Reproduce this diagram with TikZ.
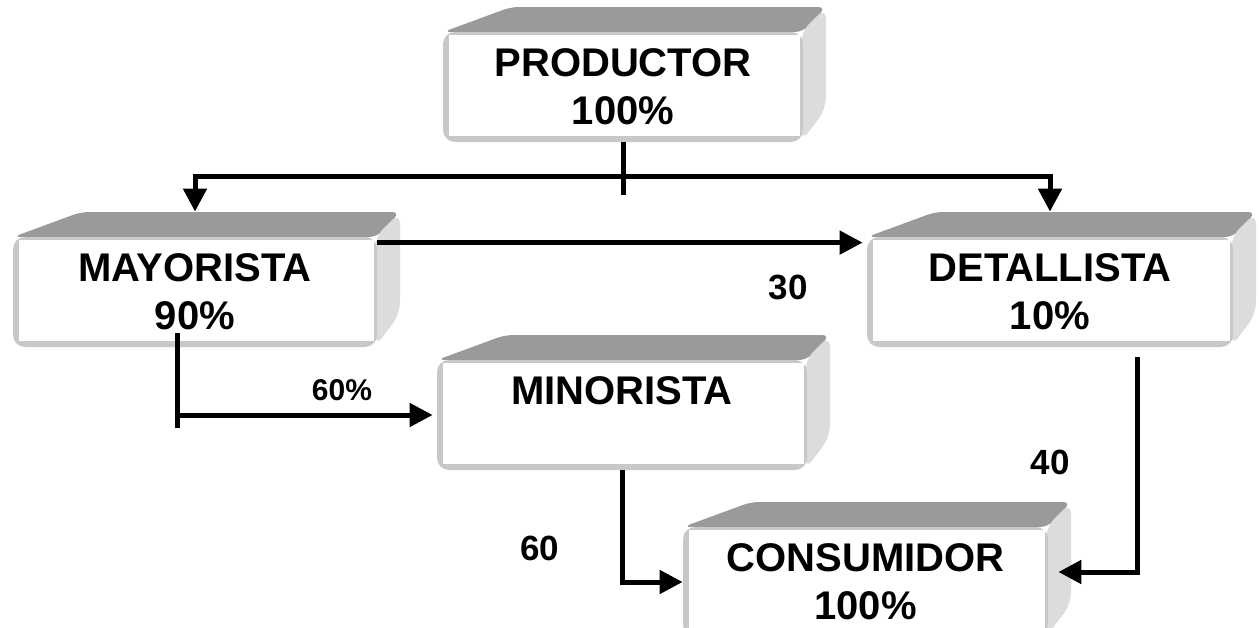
\documentclass[tikz,border=0pt]{standalone}
\usepackage{fontspec}
\setmainfont{Liberation Sans}
\usetikzlibrary{arrows.meta}

\definecolor{caratop}{HTML}{9A9A9A}
\definecolor{caralado}{HTML}{DCDCDC}
\definecolor{borde}{HTML}{C8C8C8}

\tikzset{
  linea/.style={line width=2.5pt},
  flecha/.style={line width=2.5pt, -{Triangle[length=11.5pt,width=11.5pt]}},
  etiqueta/.style={font=\fontsize{17.5}{20}\selectfont\bfseries},
}

% caja en relieve: nombre, izquierda, arriba, derecha, abajo, texto
\newcommand{\caja}[6]{%
  \fill[caratop, rounded corners=4pt] (#2,#3) -- (#2+68,#3-25) -- (#4+23,#3-25) -- (#4,#3) -- cycle;
  \fill[caralado, rounded corners=6pt] (#4-2,#3) -- (#4+23,#3-25) -- (#4+23,#5-33) -- (#4-2,#5) -- cycle;
  \fill[borde, rounded corners=6pt] (#2,#3) rectangle (#4,#5);
  \fill[white] (#2+6,#3+3) rectangle (#4-3,#5-6);
  \node[align=center, minimum width={(#4-#2)*0.5pt}, minimum height={(#5-#3)*0.5pt},
        font=\fontsize{20}{24}\selectfont\bfseries] (#1) at ({(#2+#4)/2},{(#3+#5)/2}) {#6};
}

\begin{document}
\begin{tikzpicture}[x=0.5pt, y=-0.5pt]
\useasboundingbox (0,0) rectangle (1259,627);

% Cajas
\caja{prod}{443}{32}{803}{142}{PRODUCTOR\\100\%}
\caja{may}{13}{237}{377}{347}{MAYORISTA\\90\%}
\caja{det}{867}{237}{1233}{347}{DETALLISTA\\10\%}
\caja{min}{437}{360}{807}{470}{MINORISTA\\\mbox{}}
\caja{cons}{683}{527}{1048}{637}{CONSUMIDOR\\100\%}

% Productor a mayorista y detallista
\draw[linea] (prod.south) -- ([yshift=-26.5pt]prod.south);
\coordinate (ramal) at ([yshift=-17pt]prod.south);
\draw[flecha, shorten >=12.5pt] (ramal) -| (may.north);
\draw[flecha, shorten >=12.5pt] (ramal) -| (det.north);

% Mayorista a detallista
\draw[flecha] ([yshift=-3pt]may.north east) -- ([yshift=-3pt,xshift=-2pt]det.north west);
\node[etiqueta] (n30) at (788,287) {30};

% Mayorista a minorista
\coordinate (bajada) at ([xshift=-9pt]may.south);
\coordinate (codo) at (bajada |- min.west);
\draw[linea] ([yshift=7pt]bajada) -- ([yshift=-6.5pt]codo);
\draw[flecha, shorten >=2pt] (codo) -- (min.west);
\node[etiqueta, font=\fontsize{15}{18}\selectfont\bfseries] (n60p) at (342,390) {60\%};

% Minorista a consumidor
\draw[flecha] (min.south) |- (cons.west);
\node[etiqueta] (n60) at (540,548) {60};

% Detallista a consumidor
\draw[flecha] ([xshift=43.5pt,yshift=-5pt]det.south) |- ([xshift=5pt,yshift=5pt]cons.east);
\node[etiqueta] (n40) at (1050,462) {40};

\end{tikzpicture}
\end{document}
